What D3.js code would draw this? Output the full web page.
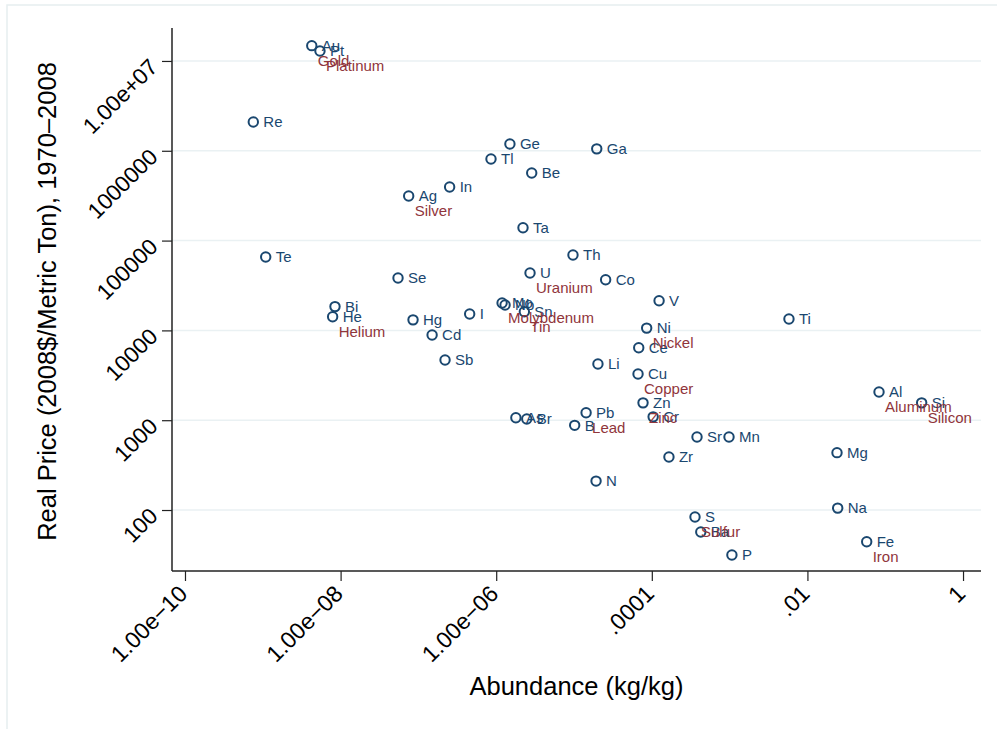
<!DOCTYPE html>
<html>
<head>
<meta charset="utf-8">
<script src="https://cdn.jsdelivr.net/npm/d3@7"></script>
<style>
  body { margin: 0; background: #fff; }
  svg { display: block; font-family: "Liberation Sans", Arial, sans-serif; }
</style>
</head>
<body>
<div id="container"></div>
<script>
// element symbols, common names (only some are labelled), crustal abundance and real price
const symbols = ['Au','Pt','Re','Ge','Ga','Tl','Be','In','Ag','Ta','Th','Te','U','Se','Co','V',
  'Mo','Nb','Sn','Bi','He','Hg','I','Cd','Ni','Ce','Sb','Li','Cu','Ti','Al','Si','Zn','Cr',
  'Pb','B','As','Br','Sr','Mn','Zr','Mg','N','S','Ba','P','Na','Fe']
const names = ['Gold','Platinum','','','','','','','Silver','','','','Uranium','','','',
  'Molybdenum','','Tin','','Helium','','','','Nickel','','','','Copper','','Aluminum','Silicon','Zinc','',
  'Lead','','','','','','','','','Sulfur','','','','Iron']
const abundance = [4.26e-9,5.43e-9,7.55e-10,1.50e-6,1.96e-5,8.57e-7,2.86e-6,2.52e-7,7.5e-8,2.21e-6,9.7e-6,1.09e-9,2.72e-6,5.47e-8,2.55e-5,1.24e-4,
  1.19e-6,1.30e-6,2.30e-6,8.47e-9,7.9e-9,8.53e-8,4.56e-7,1.50e-7,8.59e-5,6.79e-5,2.2e-7,2.03e-5,6.65e-5,5.79e-3,8.32e-2,0.294,7.71e-5,1.04e-4,
  1.43e-5,1.02e-5,1.79e-6,2.47e-6,3.81e-4,9.82e-4,1.66e-4,2.4e-2,1.92e-5,3.59e-4,4.26e-4,1.07e-3,2.45e-2,5.78e-2]
const price = [1.48e7,1.29e7,2.09e6,1.19e6,1.05e6,8.1e5,5.66e5,3.95e5,3.14e5,1.39e5,6.92e4,6.57e4,4.36e4,3.83e4,3.67e4,2.14e4,
  2.02e4,1.92e4,1.61e4,1.84e4,1.42e4,1.31e4,1.52e4,8.9e3,1.06e4,6.42e3,4.68e3,4.23e3,3.27e3,1.34e4,2060,1560,1560,1090,
  1210,877,1067,1031,650,650,389,435,210,83.6,56.9,31.6,105,44.4]

const xTicks = [1e-10, 1e-8, 1e-6, 1e-4, 1e-2, 1]
const xTickLabels = ['1.00e\u221210','1.00e\u221208','1.00e\u221206','.0001','.01','1']
const yTicks = [100, 1000, 10000, 100000, 1000000, 10000000]
const yTickLabels = ['100','1000','10000','100000','1000000','1.00e+07']

const data = symbols.map((s, i) => ({sym: s, name: names[i], x: abundance[i], y: price[i]}))

const width = 997
const height = 729
const plotLeft = 172, plotRight = 981, plotTop = 28, plotBottom = 571
const navy = '#1a476f'
const maroon = '#90353b'

const svg = d3.select('#container')
  .append('svg')
  .attr('width', width)
  .attr('height', height)

// faint outer frame, like stata's graph region
svg.append('rect')
  .attr('x', 7).attr('y', 5)
  .attr('width', 1100).attr('height', 900)
  .attr('fill', 'none')
  .attr('stroke', '#e6eef0')
  .attr('stroke-width', 1.5)

const scaleX = d3.scaleLog()
  .domain([Math.pow(10, -10.167), Math.pow(10, 0.231)])
  .range([plotLeft, plotRight])

const scaleY = d3.scaleLog()
  .domain([Math.pow(10, 1.321), Math.pow(10, 7.367)])
  .range([plotBottom, plotTop])

// grid
svg.append('g')
  .selectAll('line')
  .data(yTicks)
  .enter()
  .append('line')
  .attr('x1', plotLeft)
  .attr('x2', plotRight)
  .attr('y1', d => scaleY(d))
  .attr('y2', d => scaleY(d))
  .attr('stroke', '#eaf1f3')
  .attr('stroke-width', 1.5)

const axisX = d3.axisBottom(scaleX)
  .tickValues(xTicks)
  .tickSize(10)
  .tickFormat((d, i) => xTickLabels[i])

const gx = svg.append('g')
  .attr('transform', `translate(0, ${plotBottom})`)
  .call(axisX)
gx.select('.domain').attr('d', `M${plotLeft},0H${plotRight}`).attr('stroke', '#222').attr('stroke-width', 1.5)
gx.selectAll('.tick line').attr('stroke', '#222').attr('stroke-width', 1.2)
gx.selectAll('.tick text')
  .attr('font-size', 23)
  .attr('fill', '#000')
  .attr('text-anchor', 'end')
  .attr('y', 0)
  .attr('dy', '0.35em')
  .attr('transform', 'translate(-2.5, 18.5) rotate(-45)')

const axisY = d3.axisLeft(scaleY)
  .tickValues(yTicks)
  .tickSize(10)
  .tickFormat((d, i) => yTickLabels[i])

const gy = svg.append('g')
  .attr('transform', `translate(${plotLeft}, 0)`)
  .call(axisY)
gy.select('.domain').attr('d', `M0,${plotTop}V${plotBottom}`).attr('stroke', '#222').attr('stroke-width', 1.5)
gy.selectAll('.tick line').attr('stroke', '#222').attr('stroke-width', 1.2)
gy.selectAll('.tick text')
  .attr('font-size', 22.5)
  .attr('fill', '#000')
  .attr('text-anchor', 'end')
  .attr('x', 0)
  .attr('dy', 0)
  .attr('transform', 'translate(-13, 7) rotate(-45)')

// axis titles
svg.append('text')
  .attr('x', (plotLeft + plotRight) / 2)
  .attr('y', 695)
  .attr('text-anchor', 'middle')
  .attr('font-size', 25.5)
  .text('Abundance (kg/kg)')

svg.append('text')
  .attr('transform', `translate(56, ${(plotTop + plotBottom) / 2 + 2}) rotate(-90)`)
  .attr('text-anchor', 'middle')
  .attr('font-size', 25.5)
  .text('Real Price (2008$/Metric Ton), 1970\u20132008')

// points + symbol labels
const pts = svg.append('g')
pts.selectAll('circle')
  .data(data)
  .enter()
  .append('circle')
  .attr('cx', d => scaleX(d.x))
  .attr('cy', d => scaleY(d.y))
  .attr('r', 4.7)
  .attr('fill', 'none')
  .attr('stroke', navy)
  .attr('stroke-width', 2)

pts.selectAll('text.sym')
  .data(data)
  .enter()
  .append('text')
  .attr('class', 'sym')
  .attr('x', d => scaleX(d.x) + 10)
  .attr('y', d => scaleY(d.y))
  .attr('dy', '0.35em')
  .attr('font-size', 15)
  .attr('fill', navy)
  .text(d => d.sym)

// common names in red, under the point
svg.append('g')
  .selectAll('text')
  .data(data.filter(d => d.name))
  .enter()
  .append('text')
  .attr('x', d => scaleX(d.x) + 6)
  .attr('y', d => scaleY(d.y) + 20)
  .attr('font-size', 15)
  .attr('fill', maroon)
  .text(d => d.name)
</script>
</body>
</html>
